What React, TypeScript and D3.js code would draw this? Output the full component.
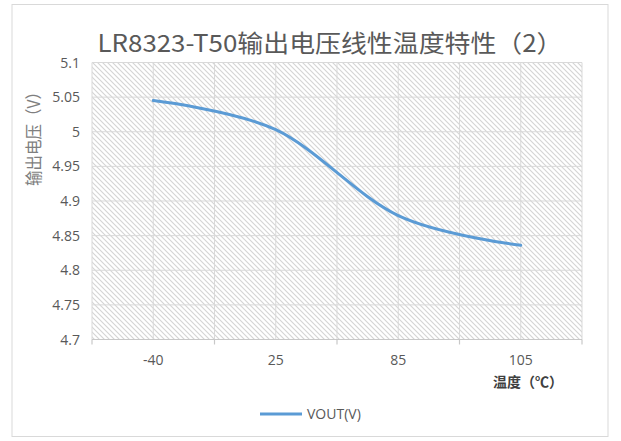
import * as d3 from 'd3';

const categories = ['-40', '25', '85', '105'];
const vout = [5.045, 5.003, 4.879, 4.836];
const yTicks = [4.7, 4.75, 4.8, 4.85, 4.9, 4.95, 5, 5.05, 5.1];

const W = 621;
const H = 441;
const plot = { left: 92, right: 582, top: 62.5, bottom: 339.5 };
const GRID = '#d9d9d9';
const TEXT = '#595959';
const SANS = '"Open Sans", "Noto Sans CJK SC", sans-serif';
const CJK = '"Noto Sans CJK SC", "Open Sans", sans-serif';

export default function App() {
  const x = d3.scaleBand<string>().domain(categories).range([plot.left, plot.right]);
  const y = d3.scaleLinear().domain([4.7, 5.1]).range([plot.bottom, plot.top]);
  const bw = x.bandwidth();
  const cx = (c: string) => (x(c) ?? 0) + bw / 2;

  const line = d3
    .line<number>()
    .x((_, i) => cx(categories[i]))
    .y((d) => y(d))
    .curve(d3.curveCardinal.tension(0));

  // category boundaries + centres give the vertical gridlines
  const bounds = [...categories.map((c) => x(c) ?? 0), plot.right];
  const vLines = [...bounds, ...categories.map(cx)];

  return (
    <svg
      width={W}
      height={H}
      style={{ position: 'absolute', left: 0, top: 0, display: 'block', background: '#fff' }}
    >
      <defs>
        <pattern id="hatch" patternUnits="userSpaceOnUse" width={5} height={5}>
          <rect width={5} height={5} fill="#fff" />
          <path d="M-1,-1 L6,6 M-1,4 L1,6 M4,-1 L6,1" stroke="#d4d4d4" strokeWidth={1.1} />
        </pattern>
      </defs>

      <rect x={12} y={4.5} width={596} height={432} fill="#fff" stroke={GRID} />

      <text
        x={330}
        y={52}
        textAnchor="middle"
        fontFamily={CJK}
        fontSize={24}
        fill={TEXT}
        textLength={465}
        lengthAdjust="spacingAndGlyphs"
      >
        LR8323-T50输出电压线性温度特性（2）
      </text>

      <rect
        x={plot.left}
        y={plot.top}
        width={plot.right - plot.left}
        height={plot.bottom - plot.top}
        fill="url(#hatch)"
      />

      {yTicks.map((t) => (
        <line
          key={'h' + t}
          x1={plot.left}
          x2={plot.right}
          y1={y(t)}
          y2={y(t)}
          stroke={GRID}
          strokeWidth={1}
        />
      ))}
      {vLines.map((v, i) => (
        <line key={'v' + i} x1={v} x2={v} y1={plot.top} y2={plot.bottom} stroke={GRID} strokeWidth={1} />
      ))}

      {/* x axis */}
      <line x1={plot.left} x2={plot.right} y1={plot.bottom} y2={plot.bottom} stroke="#c8c8c8" strokeWidth={1.2} />
      {bounds.map((b, i) => (
        <line key={'t' + i} x1={b} x2={b} y1={plot.bottom} y2={plot.bottom + 5} stroke="#c8c8c8" strokeWidth={1.2} />
      ))}
      {categories.map((c) => (
        <text key={c} x={cx(c)} y={365} textAnchor="middle" fontFamily={SANS} fontSize={14} fill={TEXT}>
          {c}
        </text>
      ))}
      <text x={528} y={387} textAnchor="middle" fontFamily={CJK} fontWeight={700} fontSize={14} fill="#404040">
        温度（℃）
      </text>

      {/* y axis */}
      {yTicks.map((t) => (
        <text
          key={'y' + t}
          x={80}
          y={y(t) + 5}
          textAnchor="end"
          fontFamily={SANS}
          fontSize={14}
          fill={TEXT}
        >
          {String(t)}
        </text>
      ))}
      <text
        transform="translate(40,135) rotate(-90)"
        textAnchor="middle"
        fontFamily={CJK}
        fontSize={17}
        fill="#7f7f7f"
        textLength={102}
        lengthAdjust="spacingAndGlyphs"
      >
        输出电压（V）
      </text>

      <path d={line(vout) ?? ''} fill="none" stroke="#5b9bd5" strokeWidth={3} strokeLinecap="round" />

      {/* legend */}
      <line x1={260} x2={302} y1={414} y2={414} stroke="#5b9bd5" strokeWidth={3} />
      <text x={307} y={419} fontFamily={SANS} fontSize={14} fill={TEXT}>
        VOUT(V)
      </text>
    </svg>
  );
}
